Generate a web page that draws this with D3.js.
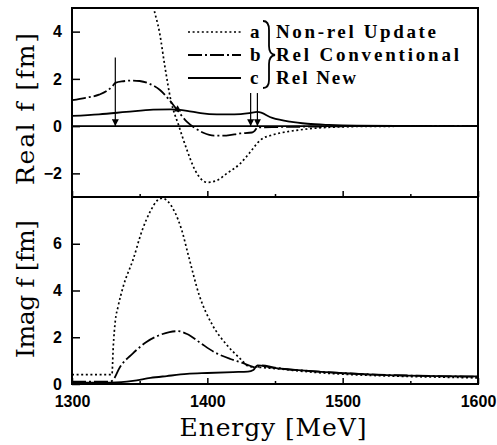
<!DOCTYPE html>
<meta charset="utf-8">
<style>

body {
  margin: 0;
  background: #fff;
}

svg {
  display: block;
}

.frame {
  fill: none;
  stroke: #000;
  stroke-width: 2px;
}

.curve {
  fill: none;
  stroke: #000;
  stroke-width: 1.8px;
}

.curve.a {
  stroke-dasharray: 2,2.6;
  stroke-width: 1.7px;
}

.curve.b {
  stroke-dasharray: 14,3,2,3;
}

.axis path {
  display: none;
}

.axis line {
  stroke: #000;
  stroke-width: 1.5px;
}

.axis text {
  font-family: 'Liberation Sans', sans-serif;
  font-weight: bold;
  font-size: 16px;
  fill: #000;
}

.title {
  font-family: 'DejaVu Serif', serif;
  font-size: 25px;
  fill: #000;
}

.legend text {
  font-family: 'Liberation Serif', serif;
  font-weight: bold;
  font-size: 19px;
  fill: #000;
}

</style>
<body>

<script src="https://cdn.jsdelivr.net/npm/d3@7"></script>
<script>

// tick labels
var energyTicks = [1300, 1400, 1500, 1600];
var energyMinor = [1350, 1450, 1550];
var realTicks = [-2, 0, 2, 4];
var imagTicks = [0, 2, 4, 6];

// legend
var seriesKeys = ["a", "b", "c"];
var seriesNames = ["Non-rel Update", "Rel Conventional", "Rel New"];

// Real f [fm], [energy, value]
var realA = [[1356,6.4],[1360,5.1],[1364.7,3.96],[1368.7,2.5],[1373,1.1],[1379,0],[1385,-1.02],
  [1391,-1.87],[1400,-2.38],[1407,-2.3],[1414.5,-2.0],[1424,-1.6],[1431,-1.15],[1439,-0.6],
  [1449,-0.36],[1461,-0.22],[1474,-0.12],[1486,-0.06],[1500,-0.03],[1520,-0.01],[1600,0]];
var realB = [[1300,1.1],[1310,1.2],[1320,1.33],[1326,1.5],[1330,1.7],[1332,1.83],[1338,1.9],
  [1345,1.93],[1350,1.91],[1357,1.8],[1365,1.53],[1372,1.1],[1378,0.66],[1385,0.18],[1390,-0.05],
  [1397,-0.28],[1405,-0.4],[1414,-0.4],[1424,-0.31],[1433,-0.27],[1435,-0.2],[1437,-0.06],
  [1450,-0.04],[1480,-0.02],[1520,0],[1600,0]];
var realC = [[1300,0.43],[1320,0.5],[1340,0.6],[1360,0.7],[1373,0.71],[1385,0.65],[1395,0.55],
  [1407,0.5],[1420,0.5],[1431,0.55],[1437,0.6],[1448,0.35],[1461,0.19],[1474,0.1],[1490,0.05],
  [1510,0.02],[1540,0.01],[1600,0]];

// Imag f [fm], [energy, value]
var imagA = [[1300,0.4],[1329.5,0.4],[1330.5,1.6],[1332,2.7],[1334,3.3],[1338,4.2],[1345,5.3],
  [1352,6.6],[1358,7.4],[1363,7.85],[1367,7.95],[1371,7.8],[1376,7.35],[1381,6.6],[1386,5.5],
  [1394,3.8],[1404,2.5],[1414,1.7],[1424,1.1],[1431,0.75],[1437,0.72],[1450,0.66],[1475,0.52],
  [1500,0.42],[1525,0.36],[1550,0.32],[1575,0.29],[1600,0.26]];
var imagB = [[1300,0.1],[1328,0.1],[1330,0.15],[1335.5,0.73],[1345,1.31],[1355,1.8],[1365,2.1],
  [1372,2.22],[1378,2.26],[1385,2.14],[1395,1.75],[1405,1.37],[1417,1.07],[1426,0.9],[1432,0.77],
  [1436,0.7],[1440,0.8],[1450,0.7],[1475,0.56],[1500,0.47],[1525,0.4],[1550,0.36],[1575,0.33],
  [1600,0.31]];
var imagC = [[1300,0.06],[1329,0.06],[1345,0.13],[1358,0.26],[1370,0.34],[1385,0.43],[1400,0.47],
  [1419,0.51],[1430,0.53],[1434,0.6],[1437,0.8],[1448,0.7],[1474,0.56],[1498,0.47],[1522,0.4],
  [1548,0.36],[1572,0.34],[1600,0.32]];

// threshold arrows in the upper panel: energy, top value
var arrowEnergy = [1332, 1432, 1437];
var arrowTop = [2.9, 1.4, 1.4];

var width = 497,
    height = 445,
    left = 72,
    right = 478,
    yTop = 8,
    yMid = 197,
    yBottom = 384;

var svg = d3.select("body").append("svg")
    .attr("width", width)
    .attr("height", height);

var x = d3.scaleLinear().domain([1300, 1600]).range([left, right]);
var yRe = d3.scaleLinear().domain([-3, 5]).range([yMid, yTop]);
var yIm = d3.scaleLinear().domain([0, 8]).range([yBottom, yMid]);

var defs = svg.append("defs");
defs.append("clipPath").attr("id", "clipRe")
  .append("rect").attr("x", left).attr("y", yTop).attr("width", right - left).attr("height", yMid - yTop);
defs.append("clipPath").attr("id", "clipIm")
  .append("rect").attr("x", left).attr("y", yMid).attr("width", right - left).attr("height", yBottom - yMid);
defs.append("marker")
    .attr("id", "head")
    .attr("viewBox", "0 0 10 10")
    .attr("refX", 10).attr("refY", 5)
    .attr("markerWidth", 7).attr("markerHeight", 7)
    .attr("markerUnits", "userSpaceOnUse")
    .attr("orient", "auto")
  .append("path")
    .attr("d", "M0,0L10,5L0,10z");

function panel(y, ticks, series, clip, labels) {
    var g = svg.append("g");

    var line = d3.line()
        .x(function(d) { return x(d[0]); })
        .y(function(d) { return y(d[1]); })
        .curve(d3.curveMonotoneX);

    g.append("g").attr("clip-path", "url(#" + clip + ")")
      .selectAll("path")
      .data(series)
      .enter().append("path")
        .attr("class", function(d, i) { return "curve " + seriesKeys[i]; })
        .attr("d", line);

    g.append("g")
        .attr("class", "axis")
        .attr("transform", "translate(" + left + ",0)")
        .call(d3.axisLeft(y).tickValues(ticks).tickSize(-8).tickPadding(10)
            .tickFormat(function(d) { return d < 0 ? "\u2212" + (-d) : d; }));

    g.append("g")
        .attr("class", "axis")
        .attr("transform", "translate(0," + y.range()[0] + ")")
        .call(d3.axisBottom(x).tickValues(energyTicks).tickSize(-6).tickPadding(12)
            .tickFormat(labels ? d3.format("d") : ""));

    g.append("g")
        .attr("class", "axis")
        .attr("transform", "translate(0," + y.range()[0] + ")")
        .call(d3.axisBottom(x).tickValues(energyMinor).tickSize(-3).tickFormat(""));

    g.append("rect")
        .attr("class", "frame")
        .attr("x", left)
        .attr("y", y.range()[1])
        .attr("width", right - left)
        .attr("height", y.range()[0] - y.range()[1]);

    return g;
}

var up = panel(yRe, realTicks, [realA, realB, realC], "clipRe", false);
panel(yIm, imagTicks, [imagA, imagB, imagC], "clipIm", true);

// zero line
up.append("line")
    .attr("x1", left).attr("x2", right)
    .attr("y1", yRe(0)).attr("y2", yRe(0))
    .attr("stroke", "#000").attr("stroke-width", 1.8);

up.selectAll(".arrow")
    .data(arrowEnergy)
    .enter().append("line")
      .attr("class", "arrow")
      .attr("x1", function(d) { return x(d); })
      .attr("x2", function(d) { return x(d); })
      .attr("y1", function(d, i) { return yRe(arrowTop[i]); })
      .attr("y2", yRe(0))
      .attr("stroke", "#000")
      .attr("stroke-width", 1.2)
      .attr("marker-end", "url(#head)");

// small up arrowhead at the crossing
up.append("path")
    .attr("d", "M" + (x(1378) - 3.5) + "," + (yRe(0.62)) + "L" + x(1378) + "," + yRe(0.88) +
        "L" + (x(1378) + 3.5) + "," + yRe(0.62) + "z");

// legend
var legend = svg.append("g").attr("class", "legend");
var rowY = [32, 55, 78];
var nameWidth = [160, 183, 80];

legend.selectAll("line")
    .data(seriesKeys)
    .enter().append("line")
      .attr("class", function(d) { return "curve " + d; })
      .attr("x1", 188).attr("x2", 241)
      .attr("y1", function(d, i) { return rowY[i]; })
      .attr("y2", function(d, i) { return rowY[i]; });

legend.selectAll("text.key")
    .data(seriesKeys)
    .enter().append("text")
      .attr("class", "key")
      .attr("x", 250)
      .attr("y", function(d, i) { return rowY[i] + 6; })
      .text(function(d) { return d; });

legend.selectAll("text.name")
    .data(seriesNames)
    .enter().append("text")
      .attr("class", "name")
      .attr("x", 276)
      .attr("y", function(d, i) { return rowY[i] + 6; })
      .attr("textLength", function(d, i) { return nameWidth[i]; })
      .attr("lengthAdjust", "spacing")
      .text(function(d) { return d; });

legend.append("path")
    .attr("fill", "none")
    .attr("stroke", "#000")
    .attr("stroke-width", 1.8)
    .attr("d", "M263,21 Q269,21 269,30 L269,46 Q269,54 275,55 Q269,56 269,64 L269,80 Q269,88 263,88");

// titles
svg.append("text")
    .attr("class", "title")
    .attr("text-anchor", "middle")
    .attr("x", 273)
    .attr("y", 436)
    .attr("textLength", 187)
    .attr("lengthAdjust", "spacing")
    .text("Energy [MeV]");

svg.append("text")
    .attr("class", "title")
    .attr("text-anchor", "middle")
    .attr("transform", "translate(34,109)rotate(-90)")
    .attr("textLength", 152)
    .attr("lengthAdjust", "spacing")
    .text("Real f [fm]");

svg.append("text")
    .attr("class", "title")
    .attr("text-anchor", "middle")
    .attr("transform", "translate(34,289)rotate(-90)")
    .attr("textLength", 138)
    .attr("lengthAdjust", "spacing")
    .text("Imag f [fm]");

</script>
</body>
